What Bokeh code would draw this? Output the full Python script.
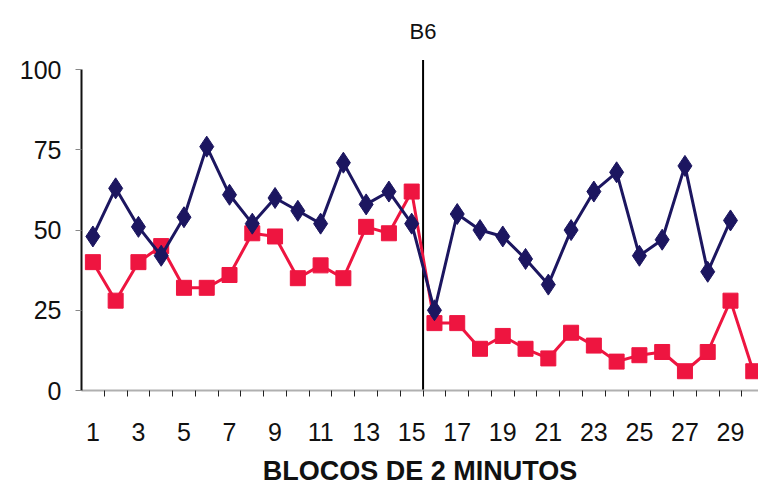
from bokeh.plotting import figure
from bokeh.models import FixedTicker, ColumnDataSource, Range1d
from bokeh.core.properties import value
from bokeh.embed import file_html
from bokeh.resources import INLINE
import numpy as np

blocks = list(range(1, 31))
series_dark = [48, 63, 51, 42, 54, 76, 61, 52, 60, 56, 52, 71, 58, 62, 52,
               25, 55, 50, 48, 41, 33, 50, 62, 68, 42, 47, 70, 37, 53, np.nan]
series_red = [40, 28, 40, 45, 32, 32, 36, 49, 48, 35, 39, 35, 51, 49, 62,
              21, 21, 13, 17, 13, 10, 18, 14, 9, 11, 12, 6, 12, 28, 6]
x_ticks = list(range(1, 30, 2))
y_ticks = [0, 25, 50, 75, 100]
phase_x = 15.5
phase_label = "B6"
x_title = "BLOCOS DE 2 MINUTOS"

FONT = "Liberation Sans"
NAVY = "#1c1660"
RED = "#ee1540"

src = ColumnDataSource(dict(x=blocks, d=series_dark, r=series_red))

p = figure(frame_width=677, frame_height=369, output_backend="svg", toolbar_location=None,
           x_range=Range1d(0.5, 30.23), y_range=Range1d(0, 115),
           min_border_left=81, min_border_right=0, min_border_top=21,
           min_border_bottom=0)
p.outline_line_color = None
p.grid.visible = False
p.background_fill_color = "white"

# phase change line
p.segment(x0=[phase_x], y0=[0], x1=[phase_x], y1=[103], line_color="black", line_width=2)
p.text(x=[phase_x], y=[112], text=[phase_label], text_align="center", text_baseline="middle",
       text_font=value(FONT), text_font_size="22px", text_color="#111111")

p.line("x", "r", source=src, line_color=RED, line_width=3)
p.scatter("x", "r", source=src, marker="square", size=15, fill_color=RED, line_color=RED)
p.line("x", "d", source=src, line_color=NAVY, line_width=3)
p.scatter("x", "d", source=src, marker="diamond", size=21, fill_color=NAVY, line_color=NAVY)

xa = p.xaxis[0]
xa.ticker = FixedTicker(ticks=x_ticks, minor_ticks=[i + 0.5 for i in range(1, 30)])
xa.axis_line_color = "#b0b0b0"
xa.axis_line_width = 2
xa.major_tick_out = 0
xa.major_tick_in = 0
xa.minor_tick_out = 6
xa.minor_tick_in = 0
xa.minor_tick_line_color = "#222222"
xa.minor_tick_line_width = 1
xa.major_label_text_font = FONT
xa.major_label_text_font_size = "25px"
xa.major_label_text_color = "#111111"
xa.major_label_standoff = 26
xa.axis_label = x_title
xa.axis_label_text_font = FONT
xa.axis_label_text_font_style = "bold"
xa.axis_label_text_font_size = "27px"
xa.axis_label_text_color = "#111111"
xa.axis_label_standoff = 12

ya = p.yaxis[0]
ya.ticker = FixedTicker(ticks=y_ticks)
ya.bounds = (0, 100)
ya.axis_line_color = "#111111"
ya.axis_line_width = 2
ya.major_tick_out = 6
ya.major_tick_in = 0
ya.major_tick_line_color = "#888888"
ya.minor_tick_line_color = None
ya.major_label_text_font = FONT
ya.major_label_text_font_size = "25px"
ya.major_label_text_color = "#111111"
ya.major_label_standoff = 14

open("out.html", "w").write(file_html(p, INLINE))
